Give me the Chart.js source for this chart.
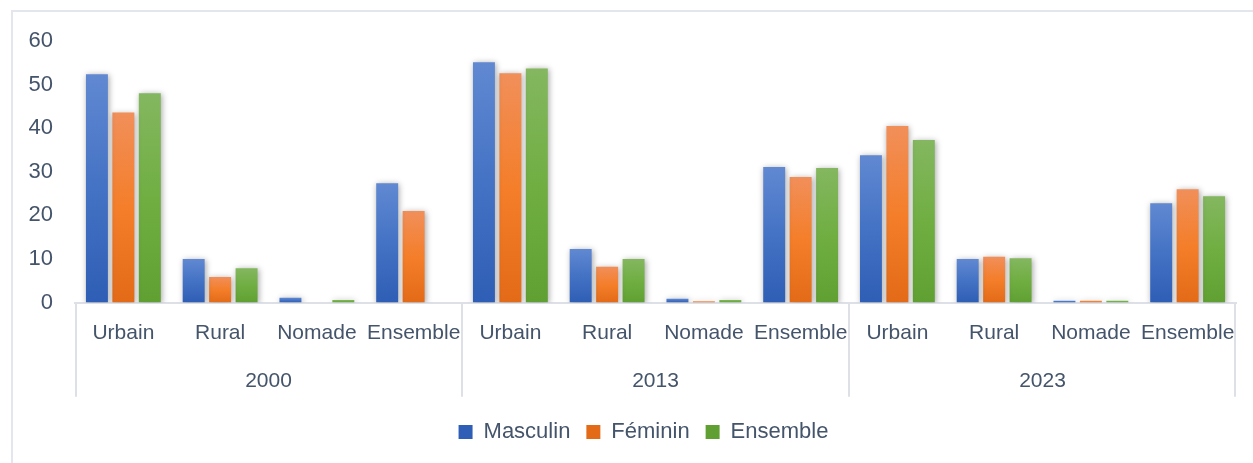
<!DOCTYPE html>
<html lang="fr">
  <head>
    <meta charset="UTF-8" />
    <title>Graphique</title>
    <script src="https://cdn.jsdelivr.net/npm/chart.js"></script>
    <style>
      body {
        margin: 0;
        background: #fff;
      }
      .frame {
        position: absolute;
        left: 11px;
        top: 10px;
        width: 1260px;
        height: 470px;
        border: 2px solid #e3e7ed;
      }
      canvas {
        position: absolute;
        left: 0;
        top: 0;
      }
    </style>
  </head>
  <body>
    <div class="frame"></div>
    <canvas id="chart" width="1253" height="463"></canvas>

    <script>
      const milieux = ["Urbain", "Rural", "Nomade", "Ensemble"];
      const annees = ["2000", "2013", "2023"];
      const categories = [...milieux, ...milieux, ...milieux];

      const masculin = [52.4, 10.0, 1.1, 27.4, 55.1, 12.3, 0.9, 31.1, 33.8, 10.0, 0.4, 22.8];
      const feminin = [43.6, 5.9, null, 21.0, 52.6, 8.2, 0.3, 28.8, 40.5, 10.5, 0.4, 26.0];
      const ensemble = [48.0, 7.9, 0.6, null, 53.7, 10.0, 0.6, 30.9, 37.3, 10.2, 0.4, 24.4];

      const yTicks = [0, 10, 20, 30, 40, 50, 60];

      const textColor = "#44546a";
      const axisFont = { family: "Liberation Sans", size: 21 };
      const bigFont = { family: "Liberation Sans", size: 22 };

      // excel-like vertical gradient per bar: light top, dark bottom
      function gradient(stops, solid) {
        return (ctx) => {
          if (ctx.type !== "data" || ctx.raw == null) return solid;
          const chart = ctx.chart;
          const y = chart.scales.y;
          if (!chart.chartArea || !y) return solid;
          const top = y.getPixelForValue(ctx.raw);
          const bottom = y.getPixelForValue(0);
          if (!isFinite(top) || bottom - top < 1) return solid;
          const g = chart.ctx.createLinearGradient(0, top, 0, bottom);
          g.addColorStop(0, stops[0]);
          g.addColorStop(0.5, stops[1]);
          g.addColorStop(1, stops[2]);
          return g;
        };
      }

      const shadowPlugin = {
        id: "shadow",
        beforeDatasetsDraw(chart) {
          const c = chart.ctx;
          c.save();
          c.shadowColor = "rgba(0,0,0,0.35)";
          c.shadowBlur = 6;
          c.shadowOffsetX = 1;
          c.shadowOffsetY = 1;
        },
        afterDatasetsDraw(chart) {
          chart.ctx.restore();
        },
      };

      // legend sits a bit right of the canvas centre, like the original
      const legendShift = {
        id: "legendShift",
        afterUpdate(chart) {
          const lg = chart.legend;
          if (!lg) return;
          lg.left += 25;
          lg.right += 25;
          lg.adjustHitBoxes();
        },
      };

      // vertical separators between year groups, through both label rows
      const separators = {
        id: "separators",
        afterDraw(chart) {
          const x = chart.scales.x;
          const x2 = chart.scales.x2;
          const c = chart.ctx;
          const n = milieux.length;
          const xs = [x.left + 1];
          for (let i = n; i < categories.length; i += n) {
            xs.push((x.getPixelForValue(i - 1) + x.getPixelForValue(i)) / 2);
          }
          xs.push(x.right - 1);
          c.save();
          c.strokeStyle = "#dde1e7";
          c.lineWidth = 2;
          c.beginPath();
          xs.forEach((px) => {
            c.moveTo(Math.round(px), chart.chartArea.bottom);
            c.lineTo(Math.round(px), x2.top + 33);
          });
          c.stroke();
          c.restore();
        },
      };

      new Chart(document.getElementById("chart"), {
        type: "bar",
        data: {
          labels: categories,
          datasets: [
            {
              label: "Masculin",
              data: masculin,
              backgroundColor: gradient(["#6189d2", "#4472c4", "#2e5eb5"], "#4472c4"),
            },
            {
              label: "Féminin",
              data: feminin,
              backgroundColor: gradient(["#f18f5a", "#f47e2a", "#e36b18"], "#ed7d31"),
            },
            {
              label: "Ensemble",
              data: ensemble,
              backgroundColor: gradient(["#84b760", "#70ae42", "#60a032"], "#70ad47"),
            },
          ],
        },
        options: {
          responsive: false,
          animation: false,
          categoryPercentage: 0.82,
          barPercentage: 0.83,
          layout: { padding: { left: 0, right: 16, top: 41, bottom: 10 } },
          scales: {
            x: {
              grid: { display: false, drawTicks: false },
              border: { display: true, color: "#dde1e7", width: 2 },
              ticks: {
                color: textColor,
                font: axisFont,
                padding: 18,
                autoSkip: false,
                maxRotation: 0,
              },
            },
            x2: {
              type: "category",
              labels: annees,
              position: "bottom",
              offset: true,
              grid: { display: false, drawTicks: false },
              border: { display: false },
              ticks: { color: textColor, font: axisFont, padding: 5 },
              afterFit(scale) {
                scale.height += 6;
              },
            },
            y: {
              min: 0,
              max: 60,
              afterFit(scale) {
                scale.width = 75;
              },
              afterBuildTicks(scale) {
                scale.ticks = yTicks.map((v) => ({ value: v }));
              },
              grid: { display: false, drawTicks: false },
              border: { display: false },
              ticks: { color: textColor, font: bigFont, padding: 22 },
            },
          },
          plugins: {
            tooltip: { enabled: false },
            legend: {
              position: "bottom",
              labels: {
                color: textColor,
                font: bigFont,
                boxWidth: 14,
                boxHeight: 14,
                padding: 16,
              },
            },
          },
        },
        plugins: [shadowPlugin, legendShift, separators],
      });
    </script>
  </body>
</html>
